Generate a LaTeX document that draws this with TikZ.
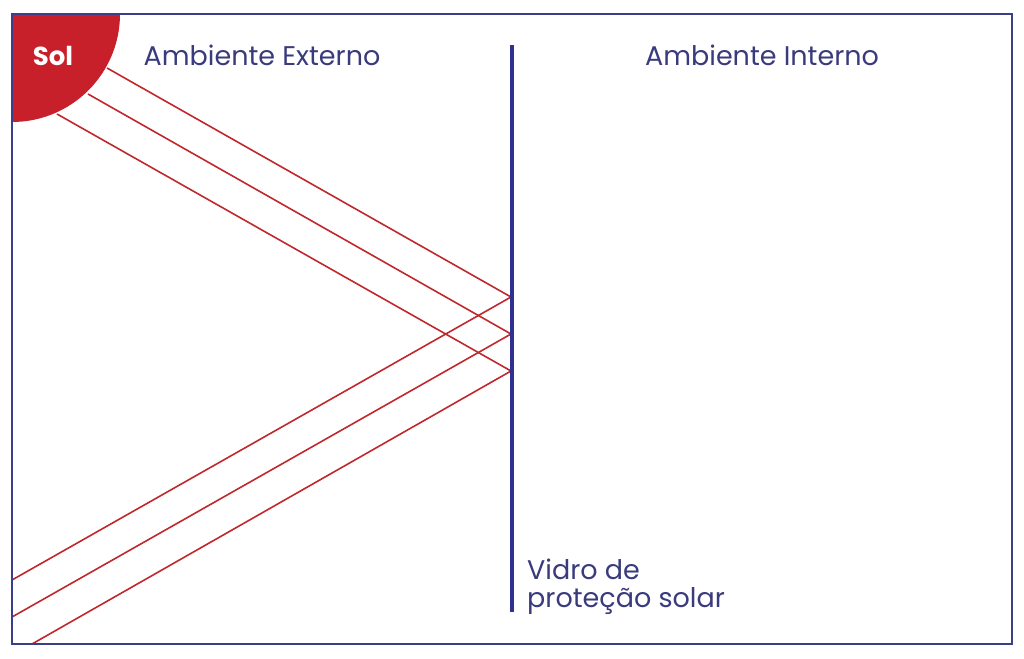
\documentclass[tikz,border=0pt]{standalone}
\usepackage{fontspec}
\setmainfont{Poppins}
\usepackage{tikz}

\definecolor{solred}{HTML}{C8202A}
\definecolor{rayred}{HTML}{C0282E}
\definecolor{vidroblue}{HTML}{2E3190}
\definecolor{frameblue}{HTML}{3B3F8A}
\definecolor{textblue}{HTML}{3A3B7C}

\tikzset{
    sunray/.style={draw=rayred, line width=1.6pt},
    ambtext/.style={text=textblue, inner sep=0pt, font=\fontsize{27}{28}\selectfont},
}

\begin{document}
\begin{tikzpicture}[x=1pt, y=-1pt]
    \useasboundingbox[fill=white] (0,0) rectangle (1024,658);
    % pontos no vidro
    \coordinate (g1) at (511,297);
    \coordinate (g2) at (511,334);
    \coordinate (g3) at (511,371);
    % raios incidentes (saem da borda do sol)
    \coordinate (s1) at (107,68);
    \coordinate (s2) at (88,94);
    \coordinate (s3) at (57,114);
    % raios refletidos
    \coordinate (r1) at (12,580);
    \coordinate (r2) at (12,617);
    \coordinate (r3) at (32,644);
    \foreach \i in {1,2,3} {
        \draw[sunray] (s\i) -- (g\i) -- (r\i);
    }
    % sol
    \begin{scope}
        \clip (12,14) rectangle (1012,644);
        \fill[solred] (12,14) circle[radius=108];
    \end{scope}
    \node[text=white, font=\bfseries\fontsize{26}{26}\selectfont, inner sep=0pt, anchor=base] (sol) at (53,66) {Sol};
    % vidro
    \draw[vidroblue, line width=4pt] (512,45) coordinate (vtop) -- (512,612) coordinate (vbot);
    \node[ambtext, anchor=base] (ext) at (262,66) {Ambiente Externo};
    \node[ambtext, anchor=base] (int) at (762,66) {Ambiente Interno};
    \node[ambtext, anchor=north west, align=left] (vidro) at (527,559) {Vidro de\\proteção solar};
    % moldura
    \draw[frameblue, line width=2pt] (12,14) rectangle (1012,644);
\end{tikzpicture}
\end{document}
